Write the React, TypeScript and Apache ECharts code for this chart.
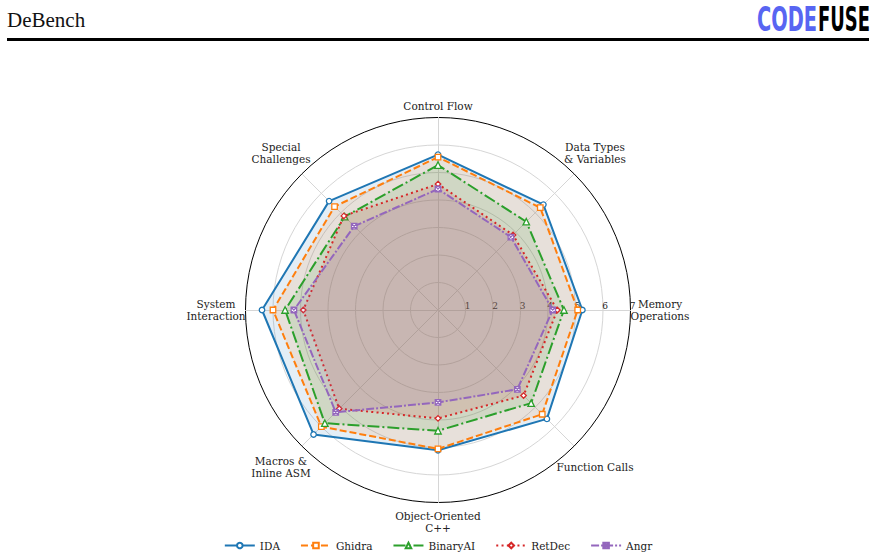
import React, { useEffect, useRef } from "react";
import * as echarts from "echarts";

// Axes listed counter-clockwise from the top (ECharts radar order)
const categories = [
  "Control Flow",
  "Special\nChallenges",
  "System\nInteraction",
  "Macros &\nInline ASM",
  "Object-Oriented\nC++",
  "Function Calls",
  "Memory\nOperations",
  "Data Types\n& Variables",
];
const tools = ["IDA", "Ghidra", "BinaryAI", "RetDec", "Angr"];
const idaScores = [5.65, 5.6, 6.4, 6.4, 5.1, 5.6, 5.25, 5.42];
const ghidraScores = [5.56, 5.32, 6.0, 6.0, 5.05, 5.36, 5.08, 5.26];
const binaryAIScores = [5.27, 4.8, 5.56, 5.82, 4.39, 4.79, 4.58, 4.54];
const retDecScores = [4.58, 4.84, 4.9, 5.08, 3.94, 4.4, 4.34, 3.86];
const angrScores = [4.4, 4.31, 5.24, 5.26, 3.36, 4.08, 4.17, 3.75];
const scoreMax = 7;
const scoreSteps = 7;

const allScores = [idaScores, ghidraScores, binaryAIScores, retDecScores, angrScores];

const colors = ["#1f77b4", "#ff7f0e", "#2ca02c", "#d62728", "#9467bd"];
const symbols = [
  "circle",
  "rect",
  "triangle",
  "diamond",
  "path://M0,0L10,0L10,10L0,10Z M0,0L10,10 M10,0L0,10",
];
const dashTypes: any[] = ["solid", [7, 3], [12, 3, 2, 3], [2, 3.3], [8, 2, 2, 2]];
const nameGaps = [11.5, 29.5, 29.5, 29.5, 19.5, 29.5, 29.5, 29.5];
const FONT = "DejaVu Serif";
const LOGO_FONT = 'bold 33px "DejaVu Sans Condensed"';

function textWidth(txt: string, font: string): number {
  const ctx = document.createElement("canvas").getContext("2d");
  if (!ctx) return txt.length * 20;
  ctx.font = font;
  return ctx.measureText(txt).width;
}

function LogoWord({ text, left, width, color }: { text: string; left: number; width: number; color: string }) {
  const natural = textWidth(text, LOGO_FONT);
  return (
    <span
      style={{
        position: "absolute",
        left,
        top: 0,
        display: "inline-block",
        whiteSpace: "nowrap",
        font: LOGO_FONT,
        lineHeight: "26px",
        color,
        transform: `scaleX(${width / natural})`,
        transformOrigin: "0 0",
      }}
    >
      {text}
    </span>
  );
}

export default function App() {
  const ref = useRef<HTMLDivElement>(null);
  useEffect(() => {
    document.body.style.margin = "0";
    if (!ref.current) return;
    const chart = echarts.init(ref.current, undefined, { renderer: "svg" });
    const indicator = categories.map((name, i) => {
      const ind: any = { name, min: 0, max: scoreMax, nameGap: nameGaps[i], nameMoveOverlap: false };
      if (i === 6) {
        ind.axisLabel = {
          show: true,
          showMinLabel: false,
          fontSize: 9,
          color: "#222",
          fontFamily: FONT,
          margin: 0,
          padding: [0, 0, 0, 4],
        };
      }
      return ind;
    });
    const gridColors = Array.from({ length: scoreSteps + 1 }, (_, i) =>
      i === scoreSteps ? "#000" : "#d6d6d6"
    );
    const legendSeries = tools.map((t, i) => ({
      type: "line",
      name: t,
      data: [],
      xAxisIndex: 0,
      yAxisIndex: 0,
      symbol: symbols[i],
      lineStyle: { color: colors[i], width: 2, type: dashTypes[i] },
      itemStyle: { color: "#fff", borderColor: colors[i], borderWidth: 1.3 },
    }));
    const radarSeries = tools.map((t, i) => ({
      type: "radar",
      name: t,
      radarIndex: 0,
      symbol: symbols[i],
      symbolSize: i === 2 ? 6.5 : 5.5,
      z: 3 + i,
      lineStyle: { color: colors[i], width: 2, type: dashTypes[i] },
      itemStyle: { color: "#fff", borderColor: colors[i], borderWidth: 1.3 },
      areaStyle: { color: colors[i], opacity: 0.12 },
      data: [{ value: allScores[i] }],
    }));
    chart.setOption({
      animation: false,
      textStyle: { fontFamily: FONT },
      grid: { show: false, left: 0, top: 0, width: 1, height: 1 },
      xAxis: { show: false, type: "value" },
      yAxis: { show: false, type: "value" },
      legend: {
        data: tools,
        left: "center",
        top: 493,
        itemWidth: 30,
        itemHeight: 7,
        itemGap: 20,
        textStyle: { fontFamily: FONT, fontSize: 10.5, color: "#222" },
      },
      radar: {
        indicator,
        center: [430, 268],
        radius: 192.5,
        startAngle: 90,
        shape: "circle",
        splitNumber: scoreSteps,
        nameMoveOverlap: false,
        axisName: {
          color: "#222",
          fontFamily: FONT,
          fontSize: 10.5,
          lineHeight: 12,
          align: "center",
          verticalAlign: "middle",
        },
        splitLine: { lineStyle: { color: gridColors, width: 1 } },
        splitArea: { show: false },
        axisLine: { lineStyle: { color: "#d6d6d6", width: 1 } },
        axisTick: { show: false },
        axisLabel: { show: false },
      },
      series: [...legendSeries, ...radarSeries],
    });
    return () => chart.dispose();
  }, []);

  return (
    <div style={{ position: "relative", width: 876, height: 558, overflow: "hidden" }}>
      <div
        style={{
          position: "absolute",
          left: 7,
          top: 10,
          fontFamily: "Liberation Serif",
          fontSize: 21,
          lineHeight: "21px",
          color: "#111",
        }}
      >
        DeBench
      </div>
      <div style={{ position: "absolute", left: 757, top: 6.5, width: 115, height: 26 }}>
        <LogoWord text="CODE" left={0} width={60} color="#5865f2" />
        <LogoWord text="FUSE" left={61} width={52} color="#000" />
      </div>
      <div
        style={{
          position: "absolute",
          left: 7,
          top: 38,
          width: 862,
          height: 3,
          background: "#000",
        }}
      />
      <div
        ref={ref}
        style={{ position: "absolute", left: 8, top: 42, width: 860, height: 516 }}
      />
    </div>
  );
}
